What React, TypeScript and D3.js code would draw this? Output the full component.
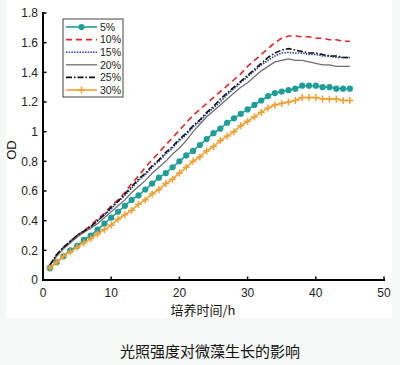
import React from 'react'
import * as d3 from 'd3'

const hours = d3.range(1, 46)

const s5 = [0.08, 0.12, 0.16, 0.2, 0.23, 0.27, 0.3, 0.34, 0.38, 0.42, 0.46, 0.5, 0.54, 0.57, 0.61, 0.65, 0.69, 0.72, 0.76, 0.8, 0.84, 0.87, 0.91, 0.95, 0.99, 1.02, 1.06, 1.09, 1.12, 1.15, 1.18, 1.21, 1.24, 1.26, 1.27, 1.28, 1.29, 1.31, 1.31, 1.31, 1.3, 1.3, 1.29, 1.29, 1.29]
const s10 = [0.1, 0.17, 0.22, 0.26, 0.3, 0.33, 0.37, 0.41, 0.45, 0.5, 0.54, 0.59, 0.65, 0.7, 0.76, 0.81, 0.86, 0.91, 0.96, 1.01, 1.06, 1.11, 1.15, 1.19, 1.23, 1.27, 1.31, 1.35, 1.39, 1.44, 1.48, 1.52, 1.56, 1.6, 1.63, 1.645, 1.645, 1.64, 1.64, 1.63, 1.63, 1.62, 1.62, 1.61, 1.61]
const s15 = [0.1, 0.17, 0.22, 0.26, 0.3, 0.33, 0.36, 0.4, 0.44, 0.48, 0.53, 0.57, 0.62, 0.67, 0.71, 0.76, 0.8, 0.85, 0.89, 0.94, 0.98, 1.03, 1.07, 1.12, 1.16, 1.2, 1.25, 1.29, 1.33, 1.37, 1.41, 1.45, 1.48, 1.51, 1.53, 1.535, 1.53, 1.53, 1.52, 1.52, 1.51, 1.51, 1.5, 1.5, 1.5]
const s20 = [0.1, 0.16, 0.21, 0.25, 0.29, 0.32, 0.35, 0.38, 0.42, 0.46, 0.5, 0.54, 0.59, 0.63, 0.67, 0.72, 0.76, 0.8, 0.85, 0.89, 0.94, 1.0, 1.05, 1.1, 1.14, 1.18, 1.22, 1.26, 1.3, 1.33, 1.37, 1.41, 1.44, 1.47, 1.48, 1.49, 1.48, 1.48, 1.47, 1.46, 1.45, 1.45, 1.44, 1.44, 1.44]
const s25 = [0.1, 0.17, 0.22, 0.26, 0.3, 0.33, 0.36, 0.4, 0.44, 0.49, 0.53, 0.58, 0.63, 0.68, 0.72, 0.77, 0.81, 0.86, 0.9, 0.95, 0.99, 1.04, 1.08, 1.13, 1.17, 1.22, 1.26, 1.3, 1.34, 1.38, 1.42, 1.46, 1.5, 1.53, 1.55, 1.56, 1.55, 1.54, 1.53, 1.53, 1.52, 1.51, 1.51, 1.5, 1.5]
const s30 = [0.08, 0.12, 0.16, 0.19, 0.22, 0.25, 0.28, 0.31, 0.34, 0.37, 0.41, 0.44, 0.47, 0.51, 0.54, 0.58, 0.61, 0.65, 0.68, 0.72, 0.76, 0.8, 0.83, 0.87, 0.9, 0.94, 0.97, 1.0, 1.04, 1.07, 1.1, 1.13, 1.16, 1.18, 1.19, 1.2, 1.21, 1.23, 1.23, 1.23, 1.22, 1.22, 1.22, 1.21, 1.21]

const xTicks = [0, 10, 20, 30, 40, 50]
const yTicks = [0, 0.2, 0.4, 0.6, 0.8, 1, 1.2, 1.4, 1.6, 1.8]

const seriesList = [
  { name: '5%', values: s5, color: '#1f9e99', dash: '', width: 1.6, marker: 'circle' },
  { name: '10%', values: s10, color: '#e0262a', dash: '6,4', width: 1.6, marker: '' },
  { name: '15%', values: s15, color: '#2844a0', dash: '1.5,1.2', width: 1.6, marker: '' },
  { name: '20%', values: s20, color: '#6e6e6e', dash: '', width: 1.3, marker: '' },
  { name: '25%', values: s25, color: '#111111', dash: '6,2,1.5,2', width: 1.6, marker: '' },
  { name: '30%', values: s30, color: '#f0a133', dash: '', width: 1.6, marker: 'plus' },
]

const font = '"Liberation Sans", Arial, sans-serif'
const cjk = '"Noto Sans CJK SC", sans-serif'

const App: React.FC = () => {
  const width = 400
  const height = 365
  const left = 43
  const right = 384
  const top = 13
  const bottom = 280

  const x = d3.scaleLinear().domain([0, 50]).range([left, right])
  const y = d3.scaleLinear().domain([0, 1.8]).range([bottom, top])

  const line = d3
    .line<number>()
    .x((_, i) => x(hours[i]))
    .y((d) => y(d))

  const plus = (cx: number, cy: number, color: string, key: string) => (
    <g key={key} stroke={color} strokeWidth={1.5}>
      <line x1={cx - 3.5} x2={cx + 3.5} y1={cy} y2={cy} />
      <line x1={cx} x2={cx} y1={cy - 3.5} y2={cy + 3.5} />
    </g>
  )

  const legend = { x: 63, y: 19, w: 60, h: 78, row: 12.6 }

  return (
    <div style={{ position: 'fixed', left: 0, top: 0 }}>
      <svg width={width} height={height} style={{ display: 'block' }}>
        <rect width={width} height={height} fill="#f7f9f9" />
        <rect x={6} y={0} width={386} height={318} fill="#ffffff" />

        {/* series */}
        {seriesList.map((s) => (
          <g key={s.name}>
            <path
              d={line(s.values) as string}
              fill="none"
              stroke={s.color}
              strokeWidth={s.width}
              strokeDasharray={s.dash || undefined}
            />
            {s.marker === 'circle' &&
              s.values.map((v, i) => (
                <circle key={i} cx={x(hours[i])} cy={y(v)} r={3.1} fill={s.color} />
              ))}
            {s.marker === 'plus' &&
              s.values.map((v, i) => plus(x(hours[i]), y(v), s.color, `p${i}`))}
          </g>
        ))}

        {/* axes */}
        <g stroke="#000" strokeWidth={2}>
          <line x1={left} x2={left} y1={top - 1} y2={bottom + 1} />
          <line x1={left - 1} x2={right + 1} y1={bottom} y2={bottom} />
        </g>
        {yTicks.map((t) => (
          <g key={`y${t}`}>
            <line x1={left} x2={left + 3.5} y1={y(t)} y2={y(t)} stroke="#000" strokeWidth={1.5} />
            <text
              x={left - 5}
              y={y(t)}
              dy="0.36em"
              textAnchor="end"
              fontFamily={font}
              fontSize={12}
              fill="#222"
            >
              {t}
            </text>
          </g>
        ))}
        {xTicks.map((t) => (
          <g key={`x${t}`}>
            <line x1={x(t)} x2={x(t)} y1={bottom} y2={bottom - 3.5} stroke="#000" strokeWidth={1.5} />
            <text
              x={x(t)}
              y={bottom + 17}
              textAnchor="middle"
              fontFamily={font}
              fontSize={12}
              fill="#222"
            >
              {t}
            </text>
          </g>
        ))}

        <text
          transform={`translate(16,150) rotate(-90)`}
          textAnchor="middle"
          fontFamily={font}
          fontSize={13}
          fill="#111"
        >
          OD
        </text>
        <text x={203} y={315} textAnchor="middle" fontFamily={cjk} fontSize={13} fill="#111">
          培养时间/h
        </text>
        <text x={210} y={357} textAnchor="middle" fontFamily={cjk} fontSize={15} fill="#111">
          光照强度对微藻生长的影响
        </text>

        {/* legend */}
        <rect
          x={legend.x}
          y={legend.y}
          width={legend.w}
          height={legend.h}
          fill="#fff"
          stroke="#444"
          strokeWidth={1}
        />
        {seriesList.map((s, i) => {
          const ly = legend.y + 8 + i * legend.row
          return (
            <g key={`l${s.name}`}>
              <line
                x1={legend.x + 3}
                x2={legend.x + 34}
                y1={ly}
                y2={ly}
                stroke={s.color}
                strokeWidth={s.width}
                strokeDasharray={s.dash || undefined}
              />
              {s.marker === 'circle' && <circle cx={legend.x + 18.5} cy={ly} r={3.1} fill={s.color} />}
              {s.marker === 'plus' && plus(legend.x + 18.5, ly, s.color, 'lp')}
              <text
                x={legend.x + 37}
                y={ly}
                dy="0.36em"
                fontFamily={font}
                fontSize={10.5}
                fill="#222"
              >
                {s.name}
              </text>
            </g>
          )
        })}
      </svg>
    </div>
  )
}

export default App
